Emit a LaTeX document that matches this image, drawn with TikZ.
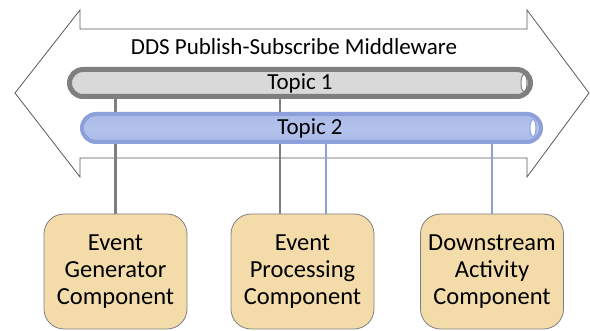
\documentclass[tikz,border=0pt]{standalone}
\usepackage{fontspec}
\setmainfont{Carlito}
\usetikzlibrary{backgrounds}
\definecolor{greyborder}{HTML}{7F7F7F}
\definecolor{greyfill}{HTML}{D9D9D9}
\definecolor{blueborder}{HTML}{8DA0DB}
\definecolor{bluefill}{HTML}{A9BAE7}
\definecolor{bluelight}{HTML}{B3C2EB}
\definecolor{tanfill}{HTML}{F3DCAA}
\definecolor{arrowline}{HTML}{595959}
\tikzset{
  txt/.style={font=\fontsize{23}{27}\selectfont},
  boxtxt/.style={font=\fontsize{24.5}{27}\selectfont},
  pipeA/.style={txt, draw=greyborder, line width=5pt, fill=greyfill, rounded corners=13.5pt, inner sep=0pt},
  pipeB/.style={txt, draw=blueborder, line width=4pt, top color=bluefill, bottom color=bluefill, middle color=bluelight, rounded corners=14pt, inner sep=0pt},
  comp/.style={boxtxt, draw=greyborder, line width=0.8pt, fill=tanfill, rounded corners=20pt, minimum width=143pt, minimum height=115pt, align=center, inner sep=0pt},
  gline/.style={draw=greyborder, line width=2.6pt},
  bline/.style={draw=blueborder, line width=2.6pt},
  bigarrow/.style={draw=arrowline, line width=0.8pt, fill=white},
  capA/.style={draw=greyborder, line width=1pt, fill=white},
  capB/.style={draw=blueborder, line width=1pt, fill=white}
}
\begin{document}
\begin{tikzpicture}[x=1pt,y=-1pt]
\useasboundingbox (0,0) rectangle (590,331);
\node[txt] (title) at (294,47) {DDS Publish-Subscribe Middleware};
\node[pipeA, minimum width=461pt, minimum height=27pt] (t1) at (300,83) {Topic 1};
\node[pipeB, minimum width=459pt, minimum height=28pt] (t2) at (311.5,128) {\hspace*{-3pt}Topic 2};
\draw[capA] ([xshift=-9pt]t1.east) ellipse (3pt and 8.5pt);
\draw[capB] ([xshift=-10pt]t2.east) ellipse (3pt and 8.5pt);
\node[comp] (e1) at (115.5,271.5) {Event\\Generator\\Component};
\node[comp] (e2) at (302.5,271.5) {Event\\Processing\\Component};
\node[comp] (e3) at (492,271.5) {Downstream\\Activity\\Component};
\begin{scope}[on background layer]
\draw[bigarrow] (15,93) -- (80,10) -- (80,29) -- (527,29) -- (527,10) -- (589,93) -- (527,177) -- (527,158) -- (80,158) -- (80,177) -- cycle;
\draw[gline] (e1.north) -- (e1.north |- t1.south);
\draw[gline] ([xshift=-22.5pt]e2.north) -- ([xshift=-22.5pt]e2.north |- t1.south);
\draw[bline] ([xshift=23.5pt]e2.north) -- ([xshift=23.5pt]e2.north |- t2.south);
\draw[bline] (e3.north) -- (e3.north |- t2.south);
\end{scope}
\end{tikzpicture}
\end{document}
